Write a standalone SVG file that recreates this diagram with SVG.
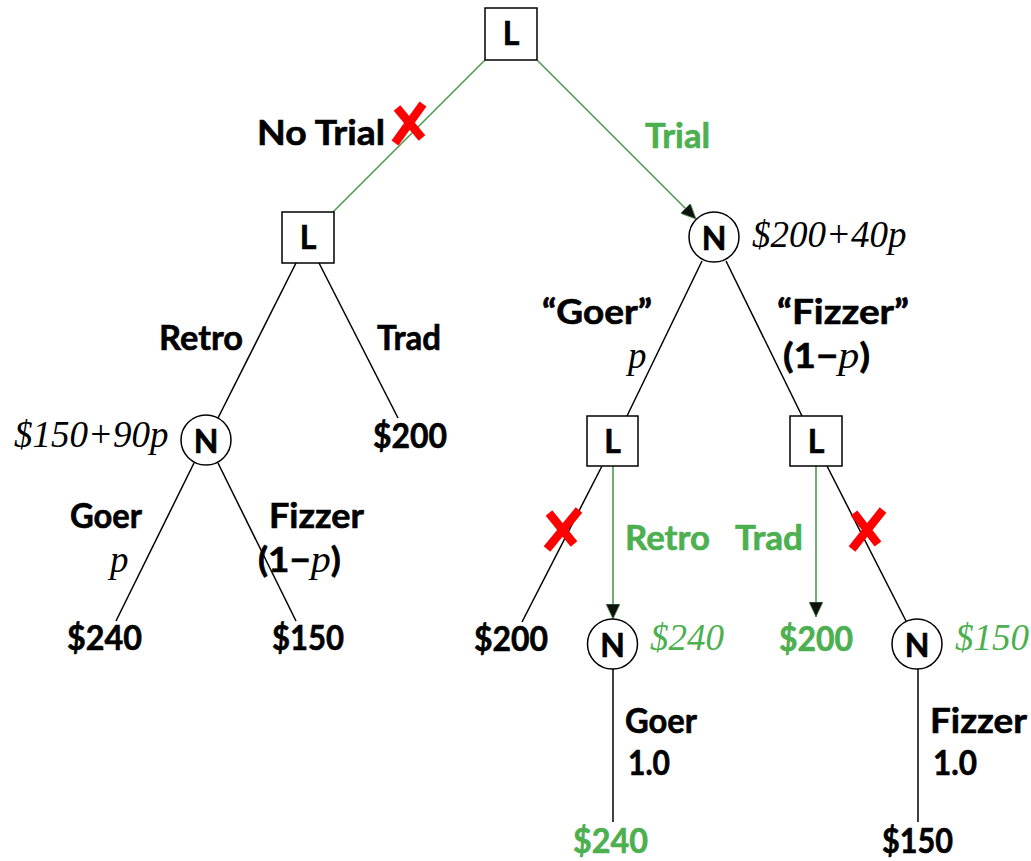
<svg xmlns="http://www.w3.org/2000/svg" width="1031" height="861" viewBox="0 0 1031 861">
  <style>
    .dec { fill: #fff; stroke: #000; stroke-width: 1.5; }
    .chn { fill: #fff; stroke: #000; stroke-width: 1.5; }
    .tag { font-family: Lato, "Open Sans", "Liberation Sans", sans-serif; font-weight: 700; font-size: 32px; text-anchor: middle; fill: #000; stroke: #000; stroke-width: 0.6; }
    .lbl { font-family: Lato, "Open Sans", "Liberation Sans", sans-serif; font-weight: 700; font-size: 34px; fill: #000; stroke: #000; stroke-width: 0.6; }
    .val { font-family: "Liberation Serif", "Times New Roman", serif; font-style: italic; font-weight: 400; font-size: 37px; fill: #000; }
    .it { font-family: "Liberation Serif", "Times New Roman", serif; font-style: italic; font-weight: 400; stroke: none; }
    .grn { fill: #4caf50; stroke: #4caf50; }
    .val.grn { stroke: none; }
    .edge { stroke: #000; stroke-width: 1.5; fill: none; }
    .best { stroke: #4f9a4f; stroke-width: 1.6; fill: none; }
    .cross { stroke: #f00; stroke-width: 8.5; fill: none; }
  </style>
  <defs>
    <marker id="arrow" markerUnits="userSpaceOnUse" markerWidth="16" markerHeight="14" refX="15" refY="7" orient="auto">
      <path d="M0,0 L15,7 L0,14 Z" fill="#111" stroke="#4f9a4f" stroke-width="0.8"/>
    </marker>
  </defs>

  <!-- connectors -->
  <g id="connectors">
    <line class="best" x1="485" y1="60" x2="333" y2="212"/>
    <line class="best" x1="537" y1="60" x2="696" y2="219" marker-end="url(#arrow)"/>
    <line class="edge" x1="296" y1="263" x2="218" y2="418"/>
    <line class="edge" x1="319" y1="263" x2="398" y2="418"/>
    <line class="edge" x1="194" y1="463" x2="116" y2="621"/>
    <line class="edge" x1="218" y1="463" x2="296" y2="621"/>
    <line class="edge" x1="702" y1="261" x2="627" y2="416"/>
    <line class="edge" x1="726" y1="261" x2="802" y2="416"/>
    <line class="edge" x1="602" y1="466" x2="522" y2="622"/>
    <line class="best" x1="613" y1="466" x2="613" y2="619" marker-end="url(#arrow)"/>
    <line class="best" x1="816" y1="466" x2="816" y2="617" marker-end="url(#arrow)"/>
    <line class="edge" x1="827" y1="466" x2="906" y2="621"/>
    <line class="edge" x1="613" y1="669" x2="613" y2="822"/>
    <line class="edge" x1="918" y1="669" x2="918" y2="822"/>
  </g>

  <!-- rejected branches -->
  <g id="rejections">
    <path class="cross" d="M423,104 L395,143 M397,108 L422,138"/>
    <path class="cross" d="M579,510 L547,549 M549,513 L574,544"/>
    <path class="cross" d="M883,510 L852,549 M854,513 L878,544"/>
  </g>

  <!-- decision nodes -->
  <g id="root">
    <rect class="dec" x="485" y="8" width="52" height="52"/>
    <text class="tag" x="511" y="45">L</text>
  </g>
  <g id="no-trial">
    <rect class="dec" x="282" y="212" width="52" height="51"/>
    <text class="tag" x="308" y="249">L</text>
  </g>
  <g id="goer-decision">
    <rect class="dec" x="587" y="416" width="51" height="50"/>
    <text class="tag" x="612.5" y="453">L</text>
  </g>
  <g id="fizzer-decision">
    <rect class="dec" x="790" y="416" width="52" height="50"/>
    <text class="tag" x="816" y="453">L</text>
  </g>

  <!-- chance nodes -->
  <g id="trial-chance">
    <circle class="chn" cx="714" cy="237" r="25"/>
    <text class="tag" x="714" y="250" font-size="35">N</text>
  </g>
  <g id="retro-chance">
    <circle class="chn" cx="206" cy="440" r="25"/>
    <text class="tag" x="206" y="453" font-size="35">N</text>
  </g>
  <g id="goer-retro-chance">
    <circle class="chn" cx="612.5" cy="644" r="25"/>
    <text class="tag" x="612.5" y="657" font-size="35">N</text>
  </g>
  <g id="fizzer-retro-chance">
    <circle class="chn" cx="917" cy="644" r="25"/>
    <text class="tag" x="917" y="657" font-size="35">N</text>
  </g>

  <!-- branch labels and values -->
  <g id="labels">
    <text class="lbl" x="257" y="145" textLength="128" lengthAdjust="spacingAndGlyphs">No Trial</text>
    <text class="lbl grn" x="645" y="148" textLength="65" lengthAdjust="spacingAndGlyphs">Trial</text>
    <text class="val" x="752" y="247">$200+40p</text>

    <text class="lbl" x="159" y="350" textLength="84" lengthAdjust="spacingAndGlyphs">Retro</text>
    <text class="lbl" x="377" y="350" textLength="64" lengthAdjust="spacingAndGlyphs">Trad</text>
    <text class="val" x="14" y="447">$150+90p</text>
    <text class="lbl" x="373" y="448" textLength="74" lengthAdjust="spacingAndGlyphs">$200</text>

    <text class="lbl" x="70" y="528" textLength="72" lengthAdjust="spacingAndGlyphs">Goer</text>
    <text class="val" x="110" y="572">p</text>
    <text class="lbl" x="269" y="528" textLength="95" lengthAdjust="spacingAndGlyphs">Fizzer</text>
    <text class="lbl" x="258" y="572" textLength="83" lengthAdjust="spacingAndGlyphs">(1−<tspan class="it" font-size="37">p</tspan>)</text>
    <text class="lbl" x="67" y="650" textLength="75" lengthAdjust="spacingAndGlyphs">$240</text>
    <text class="lbl" x="272" y="650" textLength="72" lengthAdjust="spacingAndGlyphs">$150</text>

    <text class="lbl" x="542" y="324" textLength="110" lengthAdjust="spacingAndGlyphs">“Goer”</text>
    <text class="val" x="628" y="368">p</text>
    <text class="lbl" x="777" y="324" textLength="132" lengthAdjust="spacingAndGlyphs">“Fizzer”</text>
    <text class="lbl" x="783" y="368" textLength="87" lengthAdjust="spacingAndGlyphs">(1−<tspan class="it" font-size="37">p</tspan>)</text>

    <text class="lbl grn" x="625" y="550" textLength="85" lengthAdjust="spacingAndGlyphs">Retro</text>
    <text class="lbl grn" x="735" y="550" textLength="68" lengthAdjust="spacingAndGlyphs">Trad</text>
    <text class="lbl" x="474" y="651" textLength="74" lengthAdjust="spacingAndGlyphs">$200</text>
    <text class="val grn" x="650" y="650">$240</text>
    <text class="lbl grn" x="779" y="651" textLength="74" lengthAdjust="spacingAndGlyphs">$200</text>
    <text class="val grn" x="955" y="650">$150</text>

    <text class="lbl" x="625" y="733" textLength="72" lengthAdjust="spacingAndGlyphs">Goer</text>
    <text class="lbl" x="628" y="775" textLength="42" lengthAdjust="spacingAndGlyphs">1.0</text>
    <text class="lbl grn" x="573" y="853" textLength="75" lengthAdjust="spacingAndGlyphs">$240</text>
    <text class="lbl" x="930" y="733" textLength="97" lengthAdjust="spacingAndGlyphs">Fizzer</text>
    <text class="lbl" x="933" y="775" textLength="44" lengthAdjust="spacingAndGlyphs">1.0</text>
    <text class="lbl" x="882" y="853" textLength="71" lengthAdjust="spacingAndGlyphs">$150</text>
  </g>
</svg>
